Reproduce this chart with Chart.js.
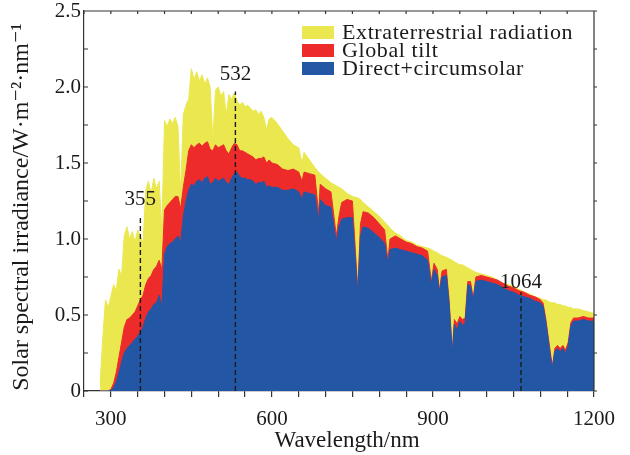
<!DOCTYPE html>
<html lang="en">
<head>
<meta charset="UTF-8">
<title>Solar spectral irradiance</title>
<script src="https://cdn.jsdelivr.net/npm/chart.js@4"></script>
<style>
  body { margin: 0; background: #fff; }
</style>
</head>
<body>
<canvas id="spectrumChart" width="630" height="455"></canvas>
<script>
// wavelength grid (nm), shared by the three spectra
const wavelength = [
  280, 285, 290, 295, 300, 305, 310, 315, 320, 325, 330, 335, 340, 345, 350, 355, 360, 365, 370, 375, 380, 385, 390, 395,
  400, 405, 410, 415, 420, 425, 430, 435, 440, 445, 450, 455, 460, 465, 470, 475,
  480, 485, 490, 495, 500, 505, 510, 515, 520, 525, 530, 535, 540, 545, 550, 555,
  560, 565, 570, 575, 580, 585, 590, 595, 600,
  610, 620, 630, 640, 650, 656, 660, 670, 680, 687,
  690, 700, 710, 720, 725, 730, 740, 750, 760, 765,
  770, 780, 790, 800, 810, 816, 820, 830, 840, 850,
  860, 870, 880, 890, 897, 902, 908, 912, 917, 925,
  930, 936, 940, 945, 950, 955, 960, 965, 970, 975,
  980, 990, 1000, 1010, 1020, 1030, 1040, 1050, 1060, 1070,
  1080, 1090, 1100, 1105, 1110, 1115, 1120, 1123, 1127, 1132,
  1137, 1142, 1147, 1152, 1157, 1162, 1170, 1180, 1190, 1200
];

const extraterrestrial = [
  0.05, 0.35, 0.60, 0.55, 0.62, 0.70, 0.66, 0.80, 0.76, 1.02, 1.08, 1.00, 1.05, 0.98, 1.06, 1.02, 0.97, 1.32, 1.38, 1.30, 1.40, 1.33, 1.38, 1.05,
  1.78, 1.74, 1.79, 1.76, 1.80, 1.74, 1.30, 1.82, 1.88, 1.92, 2.12, 2.05, 2.10, 2.04, 2.08, 2.02,
  2.06, 2.00, 1.65, 1.98, 2.00, 1.94, 1.97, 1.82, 1.95, 1.92, 1.96, 1.91, 1.88, 1.90, 1.87, 1.88,
  1.86, 1.84, 1.85, 1.82, 1.84, 1.80, 1.72, 1.79, 1.80,
  1.76, 1.71, 1.66, 1.62, 1.60, 1.50, 1.57, 1.52, 1.47, 1.44,
  1.43, 1.40, 1.37, 1.35, 1.34, 1.33, 1.30, 1.28, 1.27, 1.26,
  1.24, 1.21, 1.18, 1.15, 1.11, 1.09, 1.07, 1.04, 1.02, 0.99,
  0.98, 0.96, 0.95, 0.94, 0.93, 0.92, 0.91, 0.90, 0.89, 0.88,
  0.87, 0.86, 0.85, 0.84, 0.83, 0.83, 0.82, 0.81, 0.80, 0.79,
  0.78, 0.77, 0.76, 0.75, 0.73, 0.71, 0.70, 0.69, 0.67, 0.65,
  0.64, 0.62, 0.61, 0.60, 0.60, 0.59, 0.58, 0.58, 0.58, 0.57,
  0.57, 0.56, 0.56, 0.55, 0.55, 0.54, 0.54, 0.53, 0.52, 0.51
];

const globalTilt = [
  0, 0, 0, 0, 0.01, 0.05, 0.12, 0.22, 0.32, 0.42, 0.47, 0.48, 0.50, 0.52, 0.56, 0.60, 0.63, 0.70, 0.74, 0.76, 0.80, 0.82, 0.86, 0.80,
  1.19, 1.22, 1.24, 1.26, 1.28, 1.28, 1.20, 1.34, 1.45, 1.58, 1.62, 1.60, 1.62, 1.63, 1.61, 1.63,
  1.64, 1.59, 1.58, 1.62, 1.60, 1.61, 1.62, 1.58, 1.56, 1.60, 1.63, 1.62, 1.58, 1.58, 1.57, 1.56,
  1.55, 1.54, 1.52, 1.53, 1.53, 1.54, 1.50, 1.52, 1.50,
  1.49, 1.46, 1.45, 1.46, 1.44, 1.38, 1.44, 1.43, 1.42, 1.17,
  1.36, 1.33, 1.31, 1.02, 1.15, 1.24, 1.26, 1.25, 0.66, 1.10,
  1.18, 1.17, 1.14, 1.10, 1.06, 0.86, 1.00, 1.02, 1.00, 0.98,
  0.97, 0.95, 0.94, 0.92, 0.72, 0.84, 0.80, 0.66, 0.79, 0.80,
  0.60, 0.26, 0.47, 0.44, 0.49, 0.47, 0.48, 0.72, 0.72, 0.61,
  0.75, 0.76, 0.75, 0.74, 0.73, 0.71, 0.69, 0.68, 0.66, 0.65,
  0.63, 0.62, 0.60, 0.58, 0.48, 0.35, 0.22, 0.17, 0.28, 0.30,
  0.28, 0.30, 0.27, 0.32, 0.45, 0.48, 0.48, 0.49, 0.48, 0.48
];

const directCircumsolar = [
  0, 0, 0, 0, 0.005, 0.02, 0.06, 0.12, 0.19, 0.25, 0.28, 0.30, 0.32, 0.34, 0.36, 0.39, 0.42, 0.48, 0.52, 0.54, 0.57, 0.58, 0.63, 0.55,
  0.90, 0.95, 0.97, 0.98, 1.00, 1.02, 0.98, 1.15, 1.25, 1.32, 1.36, 1.35, 1.38, 1.39, 1.37, 1.40,
  1.41, 1.36, 1.37, 1.40, 1.38, 1.39, 1.40, 1.37, 1.36, 1.40, 1.43, 1.44, 1.41, 1.40, 1.40, 1.39,
  1.39, 1.38, 1.36, 1.37, 1.37, 1.38, 1.34, 1.35, 1.34,
  1.34, 1.32, 1.32, 1.33, 1.31, 1.26, 1.31, 1.30, 1.29, 1.12,
  1.26, 1.22, 1.21, 0.98, 1.08, 1.13, 1.14, 1.14, 0.64, 1.02,
  1.08, 1.07, 1.04, 1.01, 0.97, 0.84, 0.93, 0.94, 0.93, 0.92,
  0.91, 0.90, 0.89, 0.86, 0.70, 0.80, 0.76, 0.65, 0.75, 0.76,
  0.58, 0.25, 0.44, 0.40, 0.46, 0.43, 0.45, 0.70, 0.69, 0.60,
  0.72, 0.73, 0.72, 0.71, 0.70, 0.68, 0.66, 0.65, 0.63, 0.62,
  0.61, 0.59, 0.58, 0.56, 0.46, 0.33, 0.20, 0.16, 0.26, 0.28,
  0.26, 0.28, 0.25, 0.30, 0.43, 0.46, 0.46, 0.47, 0.46, 0.46
];

const seriesLabels = ['Extraterrestrial radiation', 'Global tilt', 'Direct+circumsolar'];
const seriesColors = ['#EAE84E', '#EE2B2B', '#2357A5'];

// laser lines marked on the plot
const markWavelength = [355, 532, 1064];
const markTop = [1.15, 1.97, 0.65];
const markLabelY = [1.26, 2.08, 0.715];

const xTickLabels = [300, 600, 900, 1200];
const yTickLabels = [0, 0.5, 1.0, 1.5, 2.0, 2.5];

const serif = '"Liberation Serif", "DejaVu Serif", serif';
const ink = '#1a1a1a';
const frame = '#333';

function spectrum(values) {
  return wavelength.map((w, i) => ({ x: w, y: values[i] }));
}

function fillDataset(idx, values, order) {
  return {
    label: seriesLabels[idx],
    data: spectrum(values),
    backgroundColor: seriesColors[idx],
    borderColor: seriesColors[idx],
    borderWidth: 1,
    fill: 'origin',
    pointRadius: 0,
    order: order
  };
}

const datasets = [
  fillDataset(0, extraterrestrial, 3),
  fillDataset(1, globalTilt, 2),
  fillDataset(2, directCircumsolar, 1)
];

markWavelength.forEach((w, i) => {
  datasets.push({
    label: 'mark' + w,
    data: [{ x: w, y: 0 }, { x: w, y: markTop[i] }],
    borderColor: ink,
    borderWidth: 1.4,
    borderDash: [5, 3],
    fill: false,
    pointRadius: 0,
    order: 0
  });
});

// top/right frame, inward tick marks, legend and marker labels
const decorPlugin = {
  id: 'decor',
  afterDraw(chart) {
    const { ctx, chartArea: a, scales: { x, y } } = chart;
    ctx.save();
    ctx.strokeStyle = frame;
    ctx.lineWidth = 1.2;
    ctx.setLineDash([]);
    ctx.beginPath();
    ctx.moveTo(a.left, a.top);
    ctx.lineTo(a.right, a.top);
    ctx.lineTo(a.right, a.bottom);
    x.ticks.forEach(t => {
      const px = x.getPixelForValue(t.value);
      ctx.moveTo(px, a.top);
      ctx.lineTo(px, a.top + 3);
    });
    y.ticks.forEach(t => {
      const py = y.getPixelForValue(t.value);
      ctx.moveTo(a.left, py);
      ctx.lineTo(a.left + 4, py);
      ctx.moveTo(a.right, py);
      ctx.lineTo(a.right + 3, py);
    });
    ctx.stroke();

    // legend
    ctx.font = '22px ' + serif;
    ctx.letterSpacing = '0.6px';
    ctx.textBaseline = 'middle';
    seriesLabels.forEach((label, i) => {
      const top = a.top + 15 + i * 18;
      ctx.fillStyle = seriesColors[i];
      ctx.fillRect(a.left + 218, top, 32, 13);
      ctx.fillStyle = ink;
      ctx.fillText(label, a.left + 258, top + 7);
    });

    // marker labels
    ctx.letterSpacing = '0px';
    ctx.font = '21px ' + serif;
    ctx.textAlign = 'center';
    markWavelength.forEach((w, i) => {
      ctx.fillText(String(w), x.getPixelForValue(w), y.getPixelForValue(markLabelY[i]));
    });
    ctx.restore();
  }
};

const ctx = document.getElementById('spectrumChart').getContext('2d');
new Chart(ctx, {
  type: 'line',
  data: { datasets: datasets },
  options: {
    responsive: false,
    animation: false,
    layout: { padding: { left: 0, right: 36, top: 11, bottom: 0 } },
    plugins: { legend: { display: false }, tooltip: { enabled: false } },
    scales: {
      x: {
        type: 'linear',
        min: 250,
        max: 1200,
        grid: { display: true, drawOnChartArea: false, drawTicks: true, tickLength: 6, color: frame, lineWidth: 1.2 },
        border: { display: true, color: frame, width: 1.2 },
        afterBuildTicks: s => {
          const ticks = [];
          for (let v = 250; v <= 1200; v += 50) ticks.push({ value: v });
          s.ticks = ticks;
        },
        ticks: {
          autoSkip: false,
          maxRotation: 0,
          padding: 10,
          color: ink,
          font: { family: serif, size: 21 },
          callback: v => xTickLabels.includes(v) ? String(v) : ''
        },
        title: {
          display: true,
          text: '\u2002\u2009Wavelength/nm',
          color: ink,
          font: { family: serif, size: 23 },
          padding: { top: 0, bottom: 0 }
        },
        afterFit: s => { s.height = 64; }
      },
      y: {
        min: 0,
        max: 2.5,
        grid: { display: true, drawOnChartArea: false, drawTicks: false },
        border: { display: true, color: frame, width: 1.2 },
        afterBuildTicks: s => {
          const ticks = [];
          for (let k = 0; k <= 10; k++) ticks.push({ value: k * 0.25 });
          s.ticks = ticks;
        },
        ticks: {
          autoSkip: false,
          padding: 3,
          color: ink,
          font: { family: serif, size: 21, lineHeight: 1 },
          callback: v => {
            const hit = yTickLabels.find(t => Math.abs(t - v) < 1e-9);
            if (hit === undefined) return '';
            return hit === 0 ? '0' : hit.toFixed(1);
          }
        },
        title: {
          display: true,
          text: 'Solar spectral irradiance/W·m⁻²·nm⁻¹\u2002',
          color: ink,
          font: { family: serif, size: 24 },
          padding: { top: 7, bottom: 0 }
        },
        afterFit: s => {
          s.width = 84;
          s.paddingTop = 0;
          s.paddingBottom = 0;
        }
      }
    }
  },
  plugins: [decorPlugin]
});
</script>
</body>
</html>
